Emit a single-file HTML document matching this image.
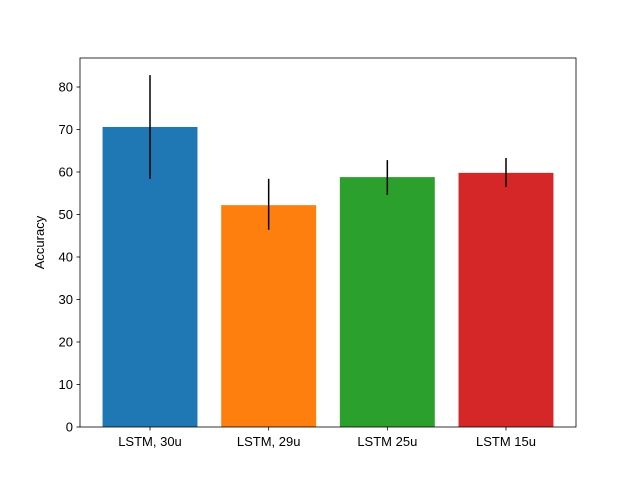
<!DOCTYPE html>
<html><head><meta charset="utf-8"><style>body{margin:0;background:#fff}svg{display:block}text{font-family:"Liberation Sans","DejaVu Sans",sans-serif;font-size:13px;fill:#000}</style></head>
<body>
<svg id="chart" width="640" height="480"></svg>
<script>
const categories=["LSTM, 30u","LSTM, 29u","LSTM 25u","LSTM 15u"];
const values=[70.6,52.2,58.8,59.8];
const errLow=[58.4,46.4,54.6,56.5];
const errHigh=[82.8,58.4,62.8,63.3];
const colors=["#1f77b4","#ff7f0e","#2ca02c","#d62728"];
const yTicks=[0,10,20,30,40,50,60,70,80];
const L=80,R=576,T=58,B=427;
const xMin=-0.59,xMax=3.59;
const xs=v=>L+(v-xMin)/(xMax-xMin)*(R-L);
const ys=v=>B-v*4.25;
const svg=document.getElementById('chart');
const NS="http://www.w3.org/2000/svg";
function mk(t,a){const e=document.createElementNS(NS,t);for(const k in a)e.setAttribute(k,a[k]);svg.appendChild(e);return e;}
categories.forEach((c,i)=>{
 const r=mk('rect',{x:xs(i-0.4),y:ys(values[i]),width:xs(i+0.4)-xs(i-0.4),height:ys(0)-ys(values[i]),fill:colors[i]});
 
 
 const l=mk('line',{x1:xs(i),x2:xs(i),y1:ys(errLow[i]),y2:ys(errHigh[i]),stroke:'#000','stroke-width':1.5});
 
 
 mk('line',{x1:xs(i),x2:xs(i),y1:B,y2:B+3.5,stroke:'#000','stroke-width':0.8});
 const t=mk('text',{x:xs(i),y:B+19,'text-anchor':'middle'});t.textContent=c;
 
 
});
yTicks.forEach(v=>{
 mk('line',{x1:L-3.5,x2:L,y1:ys(v),y2:ys(v),stroke:'#000','stroke-width':0.8});
 const t=mk('text',{x:L-7,y:ys(v)+4.5,'text-anchor':'end'});t.textContent=v;
 
 
});
const f=mk('rect',{x:L,y:T,width:R-L,height:B-T,fill:'none',stroke:'#000','stroke-width':0.8});


const yt=mk('text',{x:40,y:(T+B)/2+4,'text-anchor':'middle',transform:`rotate(-90 40 ${(T+B)/2})`});
yt.textContent='Accuracy';


</script>
</body></html>
